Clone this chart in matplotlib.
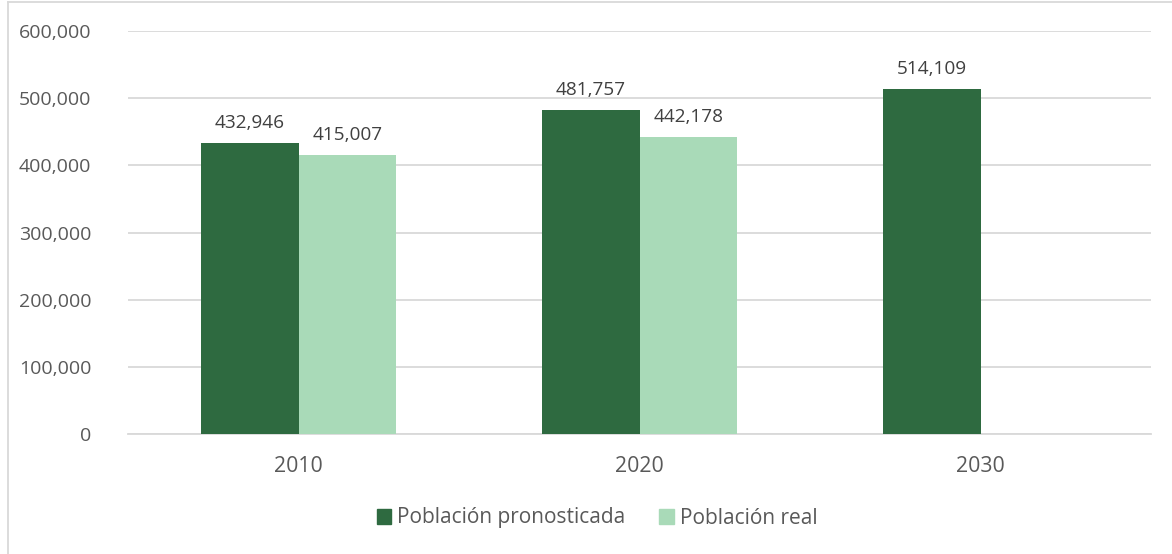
import matplotlib.pyplot as plt
import numpy as np
from matplotlib.patches import Patch
from matplotlib.lines import Line2D
from matplotlib.ticker import FuncFormatter

plt.rcParams['font.family'] = ['Open Sans', 'DejaVu Sans']

years = ['2010', '2020', '2030']
pronosticada = [432946, 481757, 514109]
real = [415007, 442178, None]

dark = '#2E6A40'
light = '#A9DAB8'
txt = '#595959'
grid = '#D9D9D9'

W, H = 1172, 554
fig = plt.figure(figsize=(W / 100, H / 100), dpi=100)
ax = fig.add_axes([128 / W, 1 - 434 / H, (1151 - 128) / W, (434 - 31) / H])

x = np.arange(len(years))
bw = 0.286

b1 = ax.bar(x - bw / 2, pronosticada, bw, color=dark, zorder=3)
real_vals = [v if v is not None else 0 for v in real]
b2 = ax.bar(x + bw / 2, real_vals, bw, color=light, zorder=3)

for rect, v in zip(b1, pronosticada):
    ax.annotate(f'{v:,}', (rect.get_x() + rect.get_width() / 2, v),
                xytext=(0, 8), textcoords='offset points',
                ha='center', va='bottom', fontsize=13.7, color='#404040')
for rect, v in zip(b2, real):
    if v is None:
        continue
    ax.annotate(f'{v:,}', (rect.get_x() + rect.get_width() / 2, v),
                xytext=(0, 8), textcoords='offset points',
                ha='center', va='bottom', fontsize=13.7, color='#404040')

ax.set_xlim(-0.5, 2.5)
ax.set_ylim(0, 600000)
ax.set_yticks(range(0, 600001, 100000))
ax.yaxis.set_major_formatter(FuncFormatter(lambda v, p: f'{int(v):,}'))
ax.set_xticks(x)
ax.set_xticklabels(years)
ax.tick_params(axis='y', length=0, pad=26.5, labelsize=14, labelcolor=txt)
ax.tick_params(axis='x', length=0, pad=16, labelsize=15.3, labelcolor=txt)
ax.grid(axis='y', color=grid, linewidth=1.3, zorder=0)
for s in ['top', 'right', 'left']:
    ax.spines[s].set_visible(False)
ax.spines['bottom'].set_color(grid)
ax.spines['bottom'].set_linewidth(1.3)

handles = [Patch(color=dark, label='Población pronosticada'),
           Patch(color=light, label='Población real')]
fig.legend(handles=handles, loc='center', ncol=2, frameon=False,
           bbox_to_anchor=(597 / W, 1 - 518 / H), fontsize=15,
           labelcolor=txt, handlelength=0.7, handleheight=0.7,
           handletextpad=0.3, columnspacing=1.6)

# chart border (cropped on the right and bottom)
fig.add_artist(Line2D([8 / W, 1], [1 - 2 / H, 1 - 2 / H], color=grid, linewidth=1.3))
fig.add_artist(Line2D([8 / W, 8 / W], [0, 1 - 2 / H], color=grid, linewidth=1.3))

fig.savefig('out.png', dpi=100)
